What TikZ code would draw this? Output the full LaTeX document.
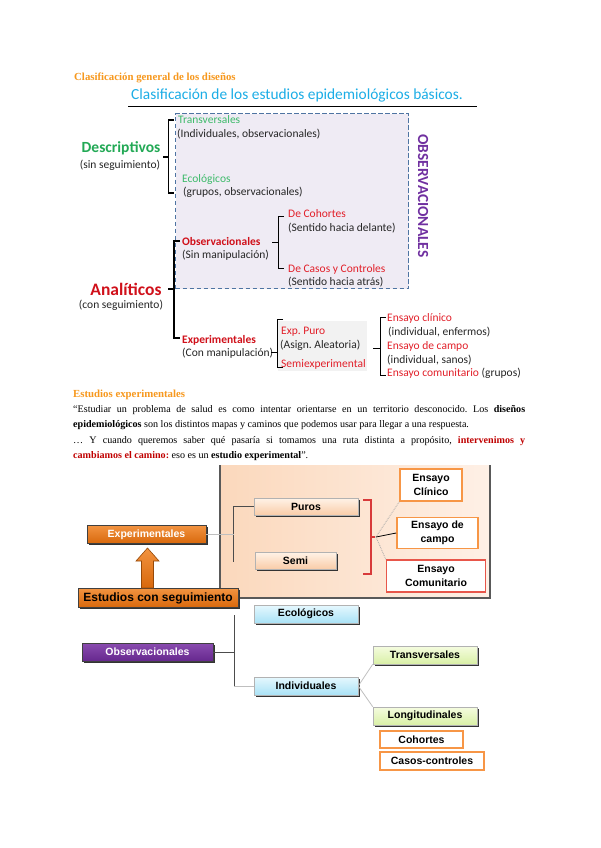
\documentclass[tikz,border=0pt]{standalone}
\usepackage{fontspec}
\setmainfont{Liberation Serif}
\newfontfamily\calfont{Carlito}
\newfontfamily\arfont{Liberation Sans}
\usetikzlibrary{shadows}
\frenchspacing
\definecolor{headorange}{HTML}{F7981D}
\definecolor{titlecyan}{HTML}{1BADE6}
\definecolor{dgreen}{HTML}{22A955}
\definecolor{lgreen}{HTML}{3DBA6A}
\definecolor{dred}{HTML}{D0101A}
\definecolor{ored}{HTML}{E2202A}
\definecolor{obspurple}{HTML}{7030A0}
\definecolor{lav}{HTML}{EFEBF4}
\definecolor{dashblue}{HTML}{4E74A2}
\definecolor{boxgray}{HTML}{F2F2F2}
\definecolor{txt}{HTML}{262626}
\definecolor{parared}{HTML}{C00000}
\definecolor{peachL}{HTML}{FBD8BC}
\definecolor{peachR}{HTML}{FEF0E6}
\definecolor{pboxT}{HTML}{FFF3E8}
\definecolor{pboxB}{HTML}{F9CCA8}
\definecolor{orT}{HTML}{F29340}
\definecolor{orB}{HTML}{D8680C}
\definecolor{orline}{HTML}{F79646}
\definecolor{comred}{HTML}{E8564A}
\definecolor{blT}{HTML}{E6F8FE}
\definecolor{blB}{HTML}{A9E2F6}
\definecolor{grT}{HTML}{F5FCE0}
\definecolor{grB}{HTML}{D9F0A6}
\definecolor{purT}{HTML}{8A4CB0}
\definecolor{purB}{HTML}{66288E}
\definecolor{brk}{HTML}{D83A3A}
\begin{document}
\begin{tikzpicture}[x=1pt,y=-1pt,
  ct/.style={anchor=base west, inner sep=0, text=txt, font=\calfont\fontsize{11.5}{13}\selectfont},
  ctr/.style={ct, text=ored},
  ctg/.style={ct, text=lgreen},
  ctb/.style={ct, text=dred, font=\calfont\bfseries\fontsize{11.5}{13}\selectfont},
  ptxt/.style={anchor=base west, inner sep=0, font=\fontsize{10.1}{12}\selectfont},
  brace/.style={line width=1.3pt, black},
  sbrace/.style={line width=0.9pt, black},
  bx/.style={inner sep=0, align=center, font=\arfont\bfseries\fontsize{10.5}{13.5}\selectfont,
    draw=gray!60, line width=0.5pt,
    drop shadow={shadow xshift=1.5pt, shadow yshift=-1.5pt, fill=black!80, opacity=1}},
  peachbox/.style={bx, top color=pboxT, bottom color=pboxB},
  bluebox/.style={bx, top color=blT, bottom color=blB},
  greenbox/.style={bx, top color=grT, bottom color=grB},
  orbox/.style={bx, top color=orT, bottom color=orB, draw=black!75, line width=0.8pt},
  outbox/.style={inner sep=0, align=center, font=\arfont\bfseries\fontsize{10.5}{13.5}\selectfont,
    draw=orline, line width=1.6pt, fill=white},
  treeline/.style={line width=1pt, black!70},
  lightline/.style={line width=0.8pt, gray!50},
  dotline/.style={line width=0.8pt, gray!70, densely dotted}
]
\useasboundingbox (0,0) rectangle (600,848);
\fill[white] (0,0) rectangle (600,848);

% ---------- headings
\node[ptxt, font=\bfseries\fontsize{10.8}{12}\selectfont, text=headorange] (hdr1) at (74,81) {Clasificación general de los diseños};
\node[anchor=base west, inner sep=0, text=titlecyan, font=\calfont\fontsize{15.4}{17}\selectfont] (title) at (131,100) {Clasificación de los estudios epidemiológicos básicos.};
\draw[line width=1.4pt] (128,106.5) -- (477,106.5);

% ---------- dashed box
\node[draw=dashblue, fill=lav, line width=1.2pt, dash pattern=on 4.5pt off 2.5pt,
      minimum width=233, minimum height=175, anchor=north west, inner sep=0] (obsbox) at (175,113) {};
\node[rotate=-90, inner sep=0, text=obspurple, font=\calfont\bfseries\fontsize{15.4}{17}\selectfont] (obslabel) at (423,196) {OBSERVACIONALES};

% ---------- descriptivos
\node[anchor=base, inner sep=0, text=dgreen, font=\calfont\bfseries\fontsize{15.5}{17}\selectfont] (desc) at (121,153) {Descriptivos};
\node[ct, anchor=base] (descsub) at (120,168) {(sin seguimiento)};
\draw[brace] (174,120) -- (168.5,120) -- (168.5,193) -- (174,193);
\draw[brace] (168.5,157) -- (163,157);
\node[ctg] (trans1) at (178,124) {Transversales};
\node[ct] (trans2) at (177,138) {(Individuales, observacionales)};
\node[ctg] (eco1) at (182,182) {Ecológicos};
\node[ct] (eco2) at (183,195) {(grupos, observacionales)};

% ---------- analiticos
\node[anchor=base, inner sep=0, text=dred, font=\calfont\bfseries\fontsize{17.5}{19}\selectfont] (anal) at (126,295) {Analíticos};
\node[ct, anchor=base] (analsub) at (121,308) {(con seguimiento)};
\draw[brace] (180,241) -- (174,241) -- (174,338) -- (180,338);
\draw[brace] (174,289) -- (168,289);

\node[ctb] (obs1) at (182,245) {Observacionales};
\node[ct] (obs2) at (182,258) {(Sin manipulación)};
\draw[sbrace] (284,216) -- (278,216) -- (278,268) -- (284,268);
\draw[sbrace] (278,242) -- (272,242);
\node[ctr] (coh1) at (288,217) {De Cohortes};
\node[ct] (coh2) at (288,231) {(Sentido hacia delante)};
\node[ctr] (cas1) at (288,272) {De Casos y Controles};
\node[ct] (cas2) at (288,285) {(Sentido hacia atrás)};

\node[ctb] (exp1) at (182,343) {Experimentales};
\node[ct] (exp2) at (182,356) {(Con manipulación)};
\fill[boxgray] (278,321) rectangle (367,371);
\draw[sbrace] (283,319) -- (277,319) -- (277,367) -- (283,367);
\draw[sbrace] (277,352) -- (271,352);
\node[ctr] (pur1) at (281,334) {Exp. Puro};
\node[ct] (pur2) at (280,348) {(Asign. Aleatoria)};
\node[ctr] (semi1) at (281,367) {Semiexperimental};

\draw[sbrace] (386,317) -- (380,317) -- (380,375) -- (386,375);
\draw[sbrace] (380,348) -- (373,348);
\node[ctr] (ens1) at (387,321) {Ensayo clínico};
\node[ct] (ens2) at (388,335) {(individual, enfermos)};
\node[ctr] (ens3) at (387,349) {Ensayo de campo};
\node[ct] (ens4) at (387,363) {(individual, sanos)};
\node[ctr] (ens5) at (387,376) {Ensayo comunitario \textcolor{txt}{(grupos)}};

% ---------- text section
\node[ptxt, font=\bfseries\fontsize{10.8}{12}\selectfont, text=headorange] (hdr2) at (73,397) {Estudios experimentales};
\node[ptxt] (l1) at (73,412) {\makebox[452pt][s]{“Estudiar un problema de salud es como intentar orientarse en un territorio desconocido. Los \textbf{diseños}}};
\node[ptxt] (l2) at (73,427.5) {\textbf{epidemiológicos} son los distintos mapas y caminos que podemos usar para llegar a una respuesta.};
\node[ptxt] (l3) at (73,443) {\makebox[452pt][s]{\ldots\ Y cuando queremos saber qué pasaría si tomamos una ruta distinta a propósito, \textcolor{parared}{\textbf{intervenimos y}}}};
\node[ptxt] (l4) at (73,458.5) {\textcolor{parared}{\textbf{cambiamos el camino:}} eso es un \textbf{estudio experimental}”.};

% ---------- bottom diagram
\shade[left color=peachL, right color=peachR] (220,465) rectangle (490,598);
\draw[line width=1.2pt, black!65] (220,465) -- (220,598) -- (490,598) -- (490,465);

\node[peachbox, minimum width=104, minimum height=17] (puros) at (306,506.5) {Puros};
\node[peachbox, minimum width=81, minimum height=17] (semi) at (295.5,560.5) {Semi};
\coordinate (tA) at (233.5,506.5);
\coordinate (tB) at (233.5,562);
\draw[treeline] (puros.west) -- (tA) -- (tB);

\node[orbox, text=white, minimum width=119, minimum height=18] (exper) at (146.5,534.5) {Experimentales};
\draw[lightline] (exper.east) -- (exper.east -| tA);
\node[orbox, text=black, font=\arfont\bfseries\fontsize{12}{14}\selectfont, minimum width=160, minimum height=19] (segui) at (158,598) {Estudios con seguimiento};
\path[top color=orT, bottom color=orB, draw=orB!70!black, line width=0.6pt]
  (147.5,548) -- (159,561) -- (153.5,561) -- (153.5,588) -- (141.5,588) -- (141.5,561) -- (136,561) -- cycle;

\draw[brk, line width=1.1pt] (363,500) -- (371,500) -- (371,574) -- (363,574);
\draw[brk, line width=1.1pt] (371,537) -- (375,537);
\coordinate (fan) at (376,537);
\node[outbox, minimum width=62, minimum height=32] (clin) at (431,485) {Ensayo\\Clínico};
\node[outbox, minimum width=81, minimum height=31] (campo) at (437.5,533) {Ensayo de\\campo};
\node[outbox, draw=comred, minimum width=99, minimum height=32] (comun) at (436,576) {Ensayo\\Comunitario};
\draw[dotline] (fan) -- (clin.south west);
\draw[line width=0.8pt, black] (fan) -- (campo.west);
\draw[dotline] (fan) -- (comun.north west);

\node[bluebox, minimum width=104, minimum height=18] (eco) at (306,614) {Ecológicos};
\node[bx, top color=purT, bottom color=purB, draw=black!75, text=white, minimum width=131, minimum height=18] (obsb) at (147.5,652) {Observacionales};
\node[bluebox, minimum width=104, minimum height=18] (indiv) at (306,686) {Individuales};
\coordinate (uA) at (234,615);
\coordinate (uB) at (234,686);
\draw[treeline] (uA) -- (uB);
\draw[treeline] (obsb.east) -- (obsb.east -| uA);
\draw[lightline] (uB) -- (indiv.west);

\node[greenbox, minimum width=104, minimum height=18] (transb) at (425,655) {Transversales};
\node[greenbox, minimum width=104, minimum height=18] (longb) at (425,716) {Longitudinales};
\draw[lightline] (indiv.east) -- (transb.south west);
\draw[lightline] (indiv.east) -- (longb.north west);
\node[outbox, minimum width=83, minimum height=17] (coho) at (421.5,739.5) {Cohortes};
\node[outbox, minimum width=104, minimum height=18] (casos) at (432,761) {Casos-controles};
\end{tikzpicture}
\end{document}
